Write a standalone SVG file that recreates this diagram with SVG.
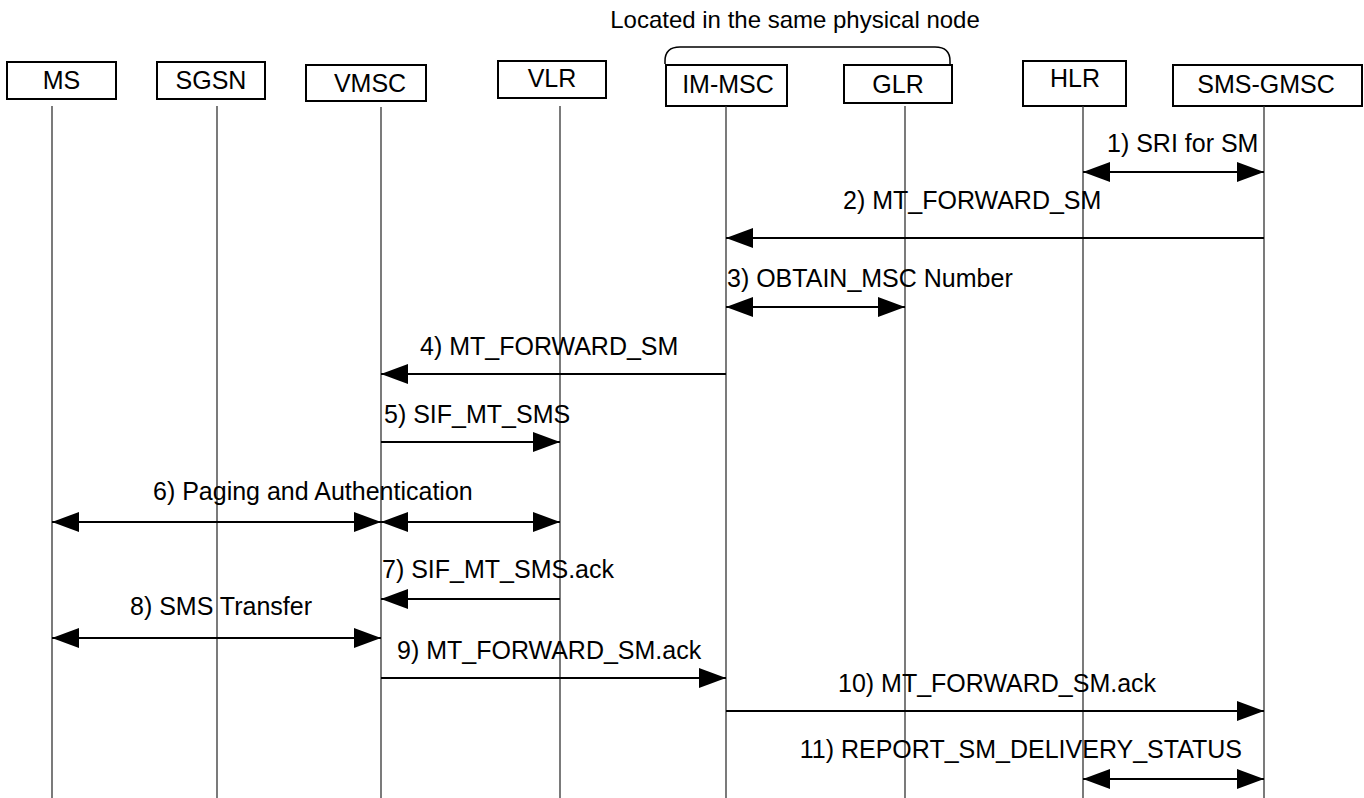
<svg xmlns="http://www.w3.org/2000/svg" width="1364" height="798" viewBox="0 0 1364 798">
<style>
.box{fill:#fff;stroke:#000;stroke-width:2}
.t{font-family:"Liberation Sans",Arial,sans-serif;font-size:25px;fill:#000}
.c{text-anchor:middle}
.life{stroke:#333;stroke-width:1.3;fill:none}
.msg{stroke:#000;stroke-width:2;fill:none}
</style>
<defs>
<marker id="ah" markerUnits="userSpaceOnUse" markerWidth="28" markerHeight="20" refX="27" refY="10" orient="auto-start-reverse" viewBox="0 0 28 20">
<path d="M0,0 L27,10 L0,20 z" fill="#000"/>
</marker>
</defs>
<rect width="1364" height="798" fill="#fff"/>
<text class="t c" x="795" y="28" style="font-size:24px">Located in the same physical node</text>
<path d="M665,64 L665,61 Q665,47 680,47 L935,47 Q950,47 950,61 L950,64" fill="none" stroke="#000" stroke-width="1.5"/>
<g id="MS"><rect class="box" x="7" y="62" width="109" height="37"/><text class="t c" x="61.5" y="89">MS</text><line class="life" x1="52" y1="106" x2="52" y2="798"/></g>
<g id="SGSN"><rect class="box" x="157" y="62" width="108" height="37"/><text class="t c" x="211" y="89">SGSN</text><line class="life" x1="217" y1="106" x2="217" y2="798"/></g>
<g id="VMSC"><rect class="box" x="306" y="65" width="120" height="36"/><text class="t c" x="370" y="92">VMSC</text><line class="life" x1="381" y1="107" x2="381" y2="798"/></g>
<g id="VLR"><rect class="box" x="498" y="61" width="108" height="37"/><text class="t c" x="552" y="87">VLR</text><line class="life" x1="560" y1="106" x2="560" y2="798"/></g>
<g id="IM-MSC"><rect class="box" x="666" y="65" width="121" height="41"/><text class="t c" x="728" y="93">IM-MSC</text><line class="life" x1="726" y1="106" x2="726" y2="798"/></g>
<g id="GLR"><rect class="box" x="844" y="65" width="108" height="38"/><text class="t c" x="898" y="93">GLR</text><line class="life" x1="905" y1="106" x2="905" y2="798"/></g>
<g id="HLR"><rect class="box" x="1023" y="61" width="103" height="45"/><text class="t c" x="1075" y="87">HLR</text><line class="life" x1="1083" y1="106" x2="1083" y2="798"/></g>
<g id="SMS-GMSC"><rect class="box" x="1173" y="65" width="189" height="41"/><text class="t c" x="1266" y="93">SMS-GMSC</text><line class="life" x1="1264" y1="106" x2="1264" y2="798"/></g>
<g id="connectors">
<line class="msg" x1="1083" y1="172" x2="1264" y2="172" marker-start="url(#ah)" marker-end="url(#ah)"/>
<text class="t" x="1107" y="152">1) SRI for SM</text>
<line class="msg" x1="1264" y1="238" x2="726" y2="238" marker-end="url(#ah)"/>
<text class="t" x="843" y="209">2) MT_FORWARD_SM</text>
<line class="msg" x1="726" y1="307" x2="905" y2="307" marker-start="url(#ah)" marker-end="url(#ah)"/>
<text class="t" x="727" y="287">3) OBTAIN_MSC Number</text>
<line class="msg" x1="726" y1="374" x2="381" y2="374" marker-end="url(#ah)"/>
<text class="t" x="420" y="355">4) MT_FORWARD_SM</text>
<line class="msg" x1="381" y1="442" x2="560" y2="442" marker-end="url(#ah)"/>
<text class="t" x="384" y="423">5) SIF_MT_SMS</text>
<line class="msg" x1="52" y1="522" x2="381" y2="522" marker-start="url(#ah)" marker-end="url(#ah)"/>
<line class="msg" x1="381" y1="522" x2="560" y2="522" marker-start="url(#ah)" marker-end="url(#ah)"/>
<text class="t" x="153" y="500">6) Paging and Authentication</text>
<line class="msg" x1="560" y1="599" x2="381" y2="599" marker-end="url(#ah)"/>
<text class="t" x="382" y="578">7) SIF_MT_SMS.ack</text>
<line class="msg" x1="52" y1="638" x2="381" y2="638" marker-start="url(#ah)" marker-end="url(#ah)"/>
<text class="t" x="130" y="615">8) SMS Transfer</text>
<line class="msg" x1="381" y1="678" x2="726" y2="678" marker-end="url(#ah)"/>
<text class="t" x="397" y="659">9) MT_FORWARD_SM.ack</text>
<line class="msg" x1="726" y1="711" x2="1264" y2="711" marker-end="url(#ah)"/>
<text class="t" x="838" y="692">10) MT_FORWARD_SM.ack</text>
<line class="msg" x1="1083" y1="779" x2="1264" y2="779" marker-start="url(#ah)" marker-end="url(#ah)"/>
<text class="t" x="1242" y="758" style="text-anchor:end">11) REPORT_SM_DELIVERY_STATUS</text>
</g>
</svg>
